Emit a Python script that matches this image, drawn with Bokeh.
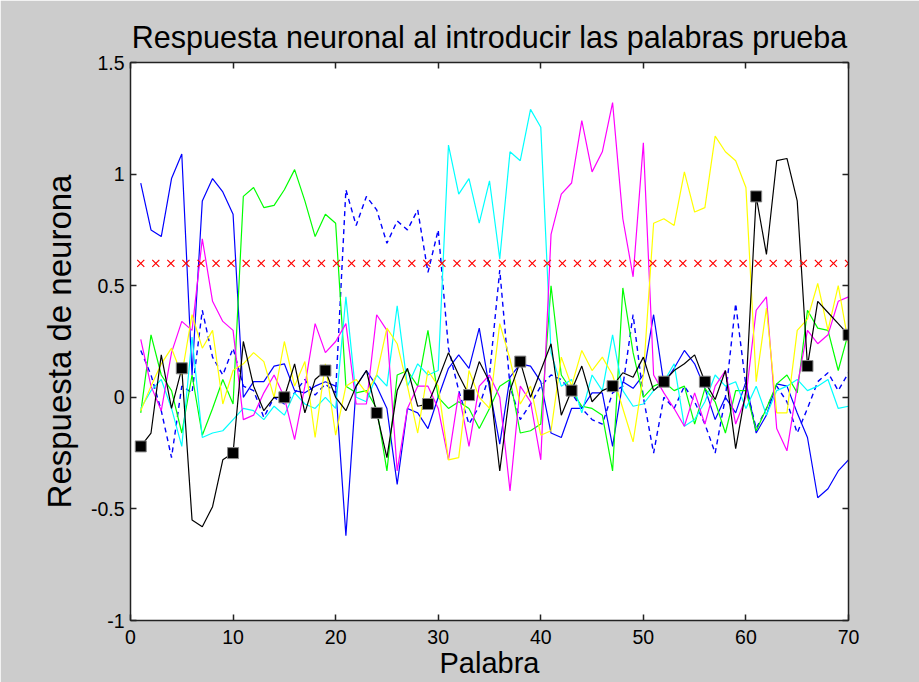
import numpy as np
from bokeh.plotting import figure
from bokeh.models import FixedTicker, LinearAxis, CustomJSTickFormatter, Range1d
from bokeh.embed import file_html
from bokeh.resources import INLINE

palabra = list(range(1, 71))

azul = [0.96, 0.75, 0.72, 0.98, 1.09, 0.10, 0.88, 0.98, 0.92, 0.82,
        0.00, 0.07, 0.07, 0.14, 0.15, 0.03, 0.02, 0.05, 0.07, 0.05,
        -0.62, 0.05, 0.12, 0.05, -0.05, -0.39, -0.05, -0.07, -0.14, 0.00,
        0.13, 0.19, 0.13, 0.31, 0.04, -0.21, 0.09, 0.15, 0.14, 0.07,
        -0.16, -0.18, -0.05, -0.05, 0.02, 0.02, -0.22, 0.07, 0.04, 0.10,
        0.37, 0.06, 0.13, 0.21, 0.15, 0.04, -0.10, 0.00, -0.07, 0.07,
        -0.16, -0.08, 0.06, 0.05, -0.07, -0.18, -0.45, -0.41, -0.33, -0.28]

azul_disc = [0.21, 0.10, -0.06, -0.27, 0.05, 0.02, 0.39, 0.18, 0.10, 0.22,
             0.05, 0.03, -0.09, 0.00, -0.03, 0.02, 0.08, 0.01, 0.06, 0.02,
             0.93, 0.77, 0.90, 0.84, 0.69, 0.79, 0.75, 0.84, 0.56, 0.75,
             0.22, 0.03, -0.12, -0.04, 0.10, 0.57, 0.05, -0.10, -0.03, 0.05,
             0.10, 0.08, 0.02, -0.05, -0.10, -0.12, 0.02, 0.05, 0.37, 0.00,
             -0.25, 0.00, -0.05, 0.05, -0.02, -0.12, -0.25, 0.00, 0.42, 0.05,
             -0.14, -0.05, 0.05, -0.02, -0.16, -0.05, 0.07, 0.11, 0.03, 0.11]

verde = [-0.07, 0.28, 0.10, 0.03, -0.16, 0.10, -0.17, -0.05, 0.08, -0.03,
         0.90, 0.94, 0.85, 0.86, 0.93, 1.02, 0.88, 0.72, 0.82, 0.78,
         0.05, 0.02, 0.03, -0.05, -0.33, 0.10, 0.12, 0.05, 0.30, 0.00,
         -0.05, -0.02, -0.05, -0.14, -0.05, 0.05, 0.08, -0.16, -0.15, -0.12,
         0.50, 0.10, 0.03, -0.04, -0.05, -0.08, -0.33, 0.49, 0.20, 0.00,
         0.05, 0.07, 0.03, 0.05, -0.12, 0.04, -0.02, -0.16, 0.03, 0.03,
         -0.15, -0.05, 0.06, 0.10, 0.02, 0.39, 0.31, 0.30, 0.12, 0.29]

cian = [-0.05, 0.03, 0.08, -0.05, -0.22, 0.27, -0.18, -0.16, -0.15, -0.10,
        -0.05, -0.06, -0.10, -0.04, -0.08, 0.02, -0.03, -0.05, 0.00, -0.05,
        0.45, 0.00, -0.02, 0.10, 0.05, 0.41, 0.05, 0.15, 0.10, 0.12,
        1.13, 0.91, 0.98, 0.78, 0.97, 0.62, 1.10, 1.06, 1.29, 1.21,
        0.20, 0.05, 0.08, -0.07, 0.10, 0.03, 0.28, 0.03, -0.04, -0.03,
        0.03, 0.07, 0.15, -0.13, -0.10, -0.02, 0.10, 0.05, 0.07, -0.05,
        0.05, -0.08, 0.03, 0.05, 0.08, 0.03, 0.05, 0.08, -0.05, -0.04]

magenta = [0.26, 0.05, -0.06, 0.20, 0.34, 0.30, 0.71, 0.43, 0.34, 0.30,
           -0.10, -0.08, 0.02, 0.10, 0.00, -0.19, 0.05, 0.33, 0.20, 0.25,
           0.33, -0.03, -0.03, 0.37, 0.30, -0.33, -0.05, 0.05, 0.05, -0.05,
           -0.28, 0.02, -0.22, 0.05, 0.10, 0.00, -0.42, 0.05, -0.02, -0.28,
           0.73, 0.91, 0.96, 1.24, 1.01, 1.10, 1.32, 0.80, 0.54, 1.14,
           0.10, 0.02, -0.05, -0.13, 0.02, -0.12, 0.05, 0.12, -0.12, 0.00,
           0.39, 0.45, -0.14, -0.24, 0.05, 0.30, 0.24, 0.28, 0.43, 0.45]

amarillo = [-0.06, 0.05, 0.15, 0.22, 0.10, 0.37, 0.22, 0.30, -0.03, 0.12,
            0.15, 0.20, 0.16, 0.00, 0.25, 0.05, 0.16, -0.18, 0.15, -0.17,
            0.05, 0.08, 0.02, 0.10, 0.31, 0.24, 0.05, -0.16, 0.12, 0.05,
            -0.28, -0.27, 0.12, 0.00, -0.05, 0.33, 0.17, -0.03, 0.05, -0.17,
            -0.15, 0.18, 0.05, 0.21, 0.12, 0.18, 0.10, -0.05, -0.20, 0.10,
            0.78, 0.80, 0.77, 1.01, 0.83, 0.85, 1.17, 1.10, 1.06, 0.94,
            0.07, 0.40, -0.07, -0.07, 0.30, 0.35, 0.51, 0.30, 0.50, 0.24]

negro = [-0.22, -0.16, 0.19, -0.05, 0.13, -0.55, -0.58, -0.49, -0.28, -0.25,
         0.25, 0.05, -0.06, 0.00, 0.00, 0.15, -0.07, 0.08, 0.12, 0.00,
         -0.06, 0.05, 0.12, -0.07, -0.27, 0.03, 0.13, -0.04, -0.03, 0.08,
         0.20, 0.10, 0.01, 0.16, 0.07, -0.33, 0.03, 0.16, 0.00, 0.12,
         0.24, -0.08, 0.03, 0.14, -0.02, 0.03, 0.05, 0.11, 0.09, 0.18,
         0.03, 0.07, 0.12, 0.15, 0.19, 0.07, -0.01, 0.12, -0.23, 0.03,
         0.90, 0.64, 1.06, 1.07, 0.88, 0.14, 0.43, 0.38, 0.33, 0.28]

marcas = [1, 5, 10, 15, 19, 24, 29, 33, 38, 43, 47, 52, 56, 61, 66, 70]
umbral = 0.6
n_umbral = 48

x_ticks = [0, 10, 20, 30, 40, 50, 60, 70]
y_ticks = [-1, -0.5, 0, 0.5, 1, 1.5]
y_tick_labels = ["-1", "-0.5", "0", "0.5", "1", "1.5"]

FONT = "Liberation Sans"

p = figure(width=919, height=682, x_range=Range1d(0, 70), y_range=Range1d(-1, 1.5),
           output_backend="svg", toolbar_location=None,
           background_fill_color="white", border_fill_color="#cccccc",
           min_border_left=130, min_border_right=71, min_border_top=62, min_border_bottom=62,
           outline_line_color="#222222", outline_line_width=1)

p.title.text = "Respuesta neuronal al introducir las palabras prueba"
p.title.align = "center"
p.title.text_font = FONT
p.title.text_font_size = "30.5px"
p.title.text_font_style = "normal"
p.title.text_color = "black"
p.title.standoff = 18

p.xgrid.visible = False
p.ygrid.visible = False

def style_axis(ax):
    ax.axis_line_color = "#222222"
    ax.axis_line_width = 1.5
    ax.major_tick_in = 6
    ax.major_tick_out = 0
    ax.minor_tick_in = 0
    ax.minor_tick_out = 0
    ax.major_tick_line_color = "#222222"
    ax.major_tick_line_width = 1.5
    ax.major_label_text_font = FONT
    ax.major_label_text_font_size = "19.5px"
    ax.major_label_text_color = "black"
    ax.axis_label_text_font = FONT
    ax.axis_label_text_font_style = "normal"
    ax.axis_label_text_color = "black"

p.xaxis.ticker = FixedTicker(ticks=x_ticks)
p.yaxis.ticker = FixedTicker(ticks=y_ticks)
p.yaxis.major_label_overrides = {t: l for t, l in zip(y_ticks, y_tick_labels)}
style_axis(p.xaxis[0])
style_axis(p.yaxis[0])
p.xaxis.axis_label = "Palabra"
p.xaxis.axis_label_text_font_size = "29px"
p.xaxis.axis_label_standoff = 0
p.xaxis.major_label_standoff = 9
p.yaxis.axis_label = "Respuesta de neurona"
p.yaxis.axis_label_text_font_size = "33px"
p.yaxis.axis_label_standoff = 10
p.yaxis.major_label_standoff = 6

top = LinearAxis(ticker=FixedTicker(ticks=x_ticks), formatter=CustomJSTickFormatter(code="return '';"))
right = LinearAxis(ticker=FixedTicker(ticks=y_ticks), formatter=CustomJSTickFormatter(code="return '';"))
style_axis(top)
style_axis(right)
top.major_label_standoff = 0
right.major_label_standoff = 0
p.add_layout(top, "above")
p.add_layout(right, "right")

p.line(palabra, azul, color="#0000ff", line_width=1.2)
p.line(palabra, azul_disc, color="#0000ff", line_width=1.4, line_dash="5 4")
p.line(palabra, verde, color="#00ff00", line_width=1.2)
p.line(palabra, cian, color="#00ffff", line_width=1.2)
p.line(palabra, magenta, color="#ff00ff", line_width=1.2)
p.line(palabra, amarillo, color="#ffff00", line_width=1.2)
p.line(palabra, negro, color="#000000", line_width=1.2)

mx = marcas
my = [negro[i - 1] for i in marcas]
p.scatter(mx, my, marker="square", size=11, fill_color="black", line_color="#888888", line_width=1)

ux = np.linspace(1, 70, n_umbral)
uy = [umbral] * n_umbral
p.scatter(ux, uy, marker="x", size=10, line_color="#ff0000", line_width=1.2)

open("out.html", "w").write(file_html(p, INLINE))
